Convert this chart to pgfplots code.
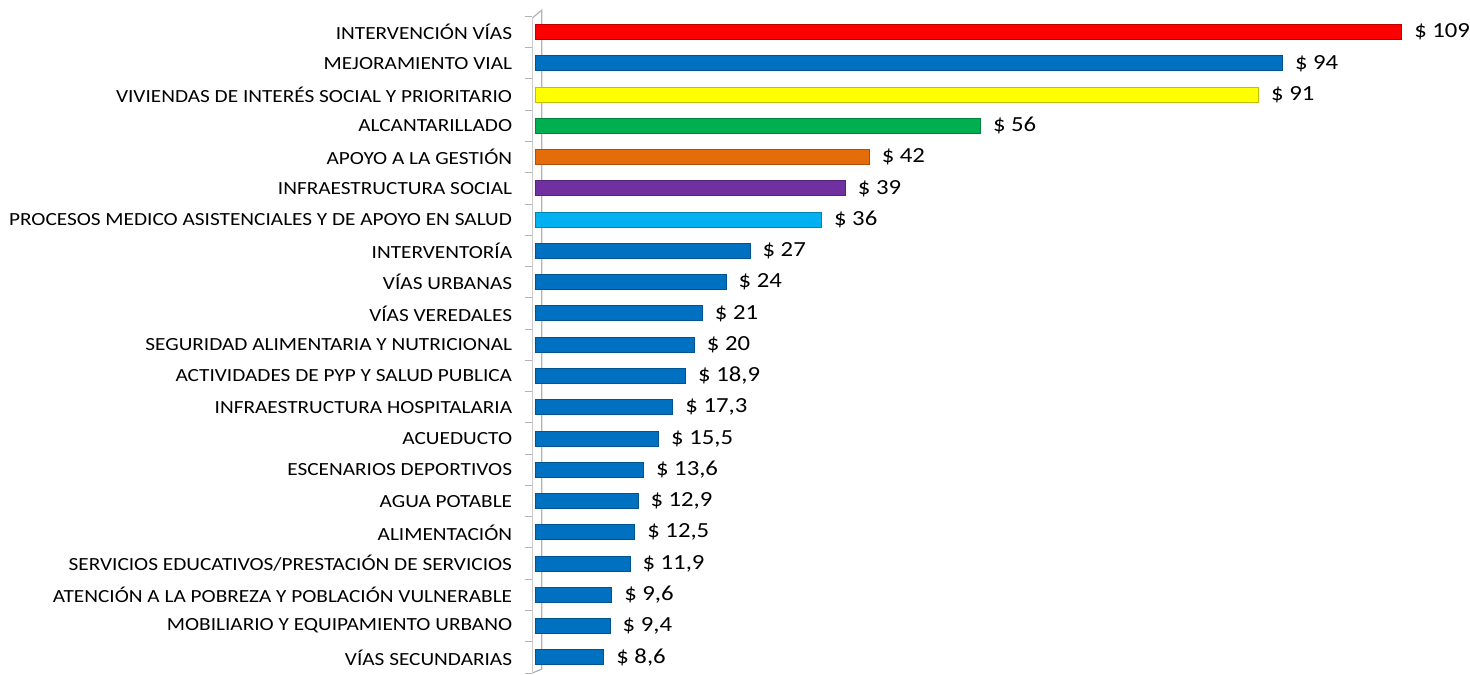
\documentclass[border=0pt]{standalone}
\usepackage{fontspec}
\setmainfont{Carlito}[FakeStretch=1.15]
\usepackage{pgfplots}
\pgfplotsset{compat=1.18}

\definecolor{cRed}{HTML}{FF0000}
\definecolor{cBlue}{HTML}{0070C0}
\definecolor{cYellow}{HTML}{FFFF00}
\definecolor{cGreen}{HTML}{00B050}
\definecolor{cOrange}{HTML}{E46C0A}
\definecolor{cPurple}{HTML}{7030A0}
\definecolor{cSky}{HTML}{00B0F0}

\begin{document}
\begin{tikzpicture}
\begin{axis}[
    scale only axis,
    width=938pt, height=673.9pt,
    xbar, bar width=15pt, bar shift=0pt,
    xmin=-0.4, xmax=117.7,
    ymin=-1.024, ymax=20.54,
    y dir=reverse,
    axis lines*=left,
    hide x axis,
    y axis line style={draw=none},
    ytick={0,...,20},
    yticklabels={INTERVENCIÓN VÍAS, MEJORAMIENTO VIAL,
        VIVIENDAS DE INTERÉS SOCIAL Y PRIORITARIO, ALCANTARILLADO,
        APOYO A LA GESTIÓN, INFRAESTRUCTURA SOCIAL,
        PROCESOS MEDICO ASISTENCIALES Y DE APOYO EN SALUD, INTERVENTORÍA,
        VÍAS URBANAS, VÍAS VEREDALES, SEGURIDAD ALIMENTARIA Y NUTRICIONAL,
        ACTIVIDADES DE PYP Y SALUD PUBLICA, INFRAESTRUCTURA HOSPITALARIA,
        ACUEDUCTO, ESCENARIOS DEPORTIVOS, AGUA POTABLE, ALIMENTACIÓN,
        SERVICIOS EDUCATIVOS/PRESTACIÓN DE SERVICIOS,
        ATENCIÓN A LA POBREZA Y POBLACIÓN VULNERABLE,
        MOBILIARIO Y EQUIPAMIENTO URBANO, VÍAS SECUNDARIAS},
    minor ytick={-0.5,0.5,...,20.5},
    major tick length=0pt, minor tick length=7pt,
    tick align=outside,
    minor tick style={gray!60, line width=1pt},
    yticklabel style={font=\fontsize{18.5}{21}\selectfont, inner xsep=0pt, xshift=-20pt},
    point meta=x,
    nodes near coords={\$\ \pgfmathprintnumber{\pgfplotspointmeta}},
    nodes near coords style={font=\fontsize{21.5}{24}\selectfont, anchor=west, inner sep=0pt, xshift=12pt},
    /pgf/number format/.cd, use comma, fixed, precision=1, assume math mode=true
]
% wall
\draw[gray!60, line width=1.2pt] (axis cs:-0.4,20.5) -- (axis cs:-0.4,-0.45)
    -- (axis cs:0.8,-0.7) -- (axis cs:0.8,20.37) -- cycle;

\addplot[fill=cRed, draw=cRed!75!black, line width=1pt] coordinates {(109,0)};
\addplot[fill=cBlue, draw=cBlue!75!black, line width=1pt] coordinates {(94,1)};
\addplot[fill=cYellow, draw=cYellow!75!black, line width=1pt] coordinates {(91,2)};
\addplot[fill=cGreen, draw=cGreen!75!black, line width=1pt] coordinates {(56,3)};
\addplot[fill=cOrange, draw=cOrange!75!black, line width=1pt] coordinates {(42,4)};
\addplot[fill=cPurple, draw=cPurple!75!black, line width=1pt] coordinates {(39,5)};
\addplot[fill=cSky, draw=cSky!75!black, line width=1pt] coordinates {(36,6)};
\addplot[fill=cBlue, draw=cBlue!75!black, line width=1pt] coordinates {
    (27,7) (24,8) (21,9) (20,10) (18.9,11) (17.3,12) (15.5,13)
    (13.6,14) (12.9,15) (12.5,16) (11.9,17) (9.6,18) (9.4,19) (8.6,20)
};
\end{axis}
\path ([xshift=-532pt]current axis.south west);
\end{tikzpicture}
\end{document}
